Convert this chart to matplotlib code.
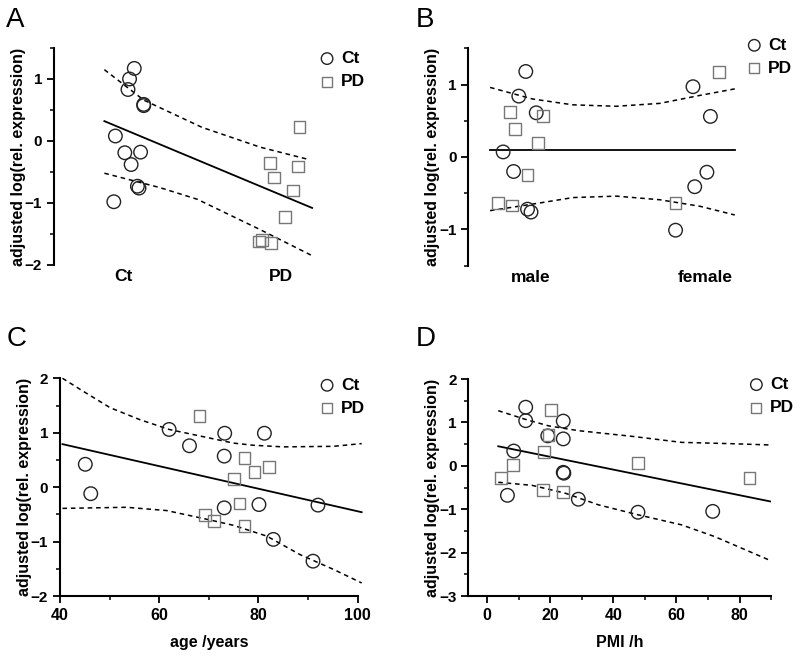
import matplotlib.pyplot as plt
from matplotlib.ticker import MultipleLocator

plt.rcParams['font.family'] = ['Liberation Sans', 'DejaVu Sans']
plt.rcParams['font.weight'] = 'bold'

# ---- A: diagnosis (x = group index plus jitter)
a_groups = ["Ct", "PD"]
a_ct_x = [0.07, 0.04, 0.03, 0.13, 0.13, -0.05, 0.01, 0.11, 0.05, 0.09, 0.10, -0.06]
a_ct_y = [1.17, 1.00, 0.83, 0.59, 0.57, 0.08, -0.19, -0.18, -0.38, -0.73, -0.76, -0.98]
a_pd_x = [1.12, 0.93, 1.11, 0.96, 1.08, 1.03, 0.86, 0.88, 0.94]
a_pd_y = [0.22, -0.36, -0.41, -0.59, -0.80, -1.23, -1.62, -1.60, -1.64]
a_fit_x = [-0.12, 1.20]
a_fit_y = [0.32, -1.08]
a_up_x = [-0.12, 0.13, 0.50, 0.87, 1.18]
a_up_y = [1.15, 0.66, 0.22, -0.10, -0.30]
a_lo_x = [-0.12, 0.23, 0.47, 0.87, 1.20]
a_lo_y = [-0.52, -0.75, -0.94, -1.43, -1.85]

# ---- B: gender
b_groups = ["male", "female"]
b_ct_x = [-0.03, -0.07, 0.03, -0.16, -0.10, -0.02, 0.00, 0.93, 1.03, 1.01, 0.94, 0.83]
b_ct_y = [1.18, 0.84, 0.61, 0.07, -0.20, -0.72, -0.76, 0.97, 0.56, -0.21, -0.41, -1.01]
b_pd_x = [-0.12, -0.09, 0.07, 0.04, -0.02, -0.19, -0.11, 1.08, 0.83]
b_pd_y = [0.62, 0.39, 0.57, 0.19, -0.25, -0.63, -0.67, 1.17, -0.64]
b_fit_x = [-0.235, 1.17]
b_fit_y = [0.10, 0.10]
b_up_x = [-0.235, 0.01, 0.24, 0.49, 0.74, 0.97, 1.17]
b_up_y = [0.96, 0.80, 0.72, 0.70, 0.74, 0.85, 0.94]
b_lo_x = [-0.235, 0.01, 0.24, 0.49, 0.74, 0.97, 1.17]
b_lo_y = [-0.74, -0.65, -0.56, -0.54, -0.59, -0.68, -0.80]

# ---- C: age
c_ct_x = [45.1, 46.2, 62.0, 66.1, 73.2, 73.1, 73.1, 81.2, 80.1, 83.0, 92.0, 91.0]
c_ct_y = [0.42, -0.12, 1.06, 0.76, 0.99, 0.57, -0.38, 0.99, -0.32, -0.96, -0.33, -1.36]
c_pd_x = [68.1, 77.2, 79.2, 82.1, 75.1, 76.2, 69.2, 71.0, 77.2]
c_pd_y = [1.30, 0.53, 0.28, 0.37, 0.15, -0.30, -0.51, -0.62, -0.72]
c_fit_x = [40.5, 100.8]
c_fit_y = [0.79, -0.46]
c_up_x = [40.5, 44.7, 50.1, 56.1, 62.0, 68.2, 74.9, 78.9, 85.0, 95.1, 100.8]
c_up_y = [2.00, 1.76, 1.46, 1.24, 1.06, 0.94, 0.81, 0.77, 0.74, 0.75, 0.80]
c_lo_x = [40.5, 53.4, 61.5, 69.6, 74.9, 81.7, 88.4, 95.1, 100.8]
c_lo_y = [-0.39, -0.37, -0.43, -0.59, -0.70, -0.90, -1.24, -1.51, -1.76]

# ---- D: post mortem interval
d_ct_x = [12.2, 12.2, 8.4, 6.4, 19.2, 24.1, 24.1, 24.1, 24.3, 28.9, 47.8, 71.5]
d_ct_y = [1.35, 1.04, 0.34, -0.68, 0.69, 1.03, 0.62, -0.15, -0.17, -0.77, -1.07, -1.05]
d_pd_x = [20.1, 19.4, 17.9, 8.2, 4.4, 17.7, 24.0, 47.8, 83.2]
d_pd_y = [1.29, 0.71, 0.31, 0.02, -0.28, -0.55, -0.60, 0.07, -0.28]
d_fit_x = [3.5, 89.7]
d_fit_y = [0.45, -0.82]
d_up_x = [3.5, 12.1, 19.5, 28.9, 45.8, 61.6, 77.4, 89.7]
d_up_y = [1.27, 1.07, 0.92, 0.81, 0.68, 0.54, 0.51, 0.48]
d_lo_x = [3.5, 14.2, 24.7, 35.3, 47.9, 61.6, 72.1, 89.7]
d_lo_y = [-0.38, -0.45, -0.63, -0.90, -1.13, -1.36, -1.63, -2.18]

ylabel = "adjusted log(rel. expression)"


def draw_panel(ax, ct_x, ct_y, pd_x, pd_y, fit_x, fit_y, up_x, up_y, lo_x, lo_y):
    ax.plot(fit_x, fit_y, color="black", lw=1.3, zorder=2)
    ax.plot(up_x, up_y, color="black", lw=1.1, ls=(0, (3, 2.5)), zorder=2)
    ax.plot(lo_x, lo_y, color="black", lw=1.1, ls=(0, (3, 2.5)), zorder=2)
    ax.scatter(ct_x, ct_y, s=95, marker="o", facecolors="none",
               edgecolors="#222222", linewidths=1.0, zorder=3, label="Ct")
    ax.scatter(pd_x, pd_y, s=72, marker="s", facecolors="none",
               edgecolors="#777777", linewidths=1.0, zorder=3, label="PD")
    ax.set_ylabel(ylabel, fontsize=11.5, fontweight="bold", labelpad=-0.5)
    for s in ["top", "right"]:
        ax.spines[s].set_visible(False)
    ax.spines["left"].set_linewidth(1.5)
    ax.spines["bottom"].set_linewidth(1.5)
    ax.yaxis.set_major_locator(MultipleLocator(1))
    ax.yaxis.set_minor_locator(MultipleLocator(0.5))
    ax.tick_params(which="major", direction="out", length=5, width=1.3, labelsize=11)
    ax.tick_params(which="minor", direction="out", length=3, width=1.1)


def add_legend(ax, fig, x, y):
    leg = ax.legend(loc="upper left", bbox_to_anchor=(x, y), bbox_transform=fig.transFigure,
                    frameon=False, borderpad=0, borderaxespad=0, handlelength=1.0,
                    handletextpad=0.3, labelspacing=0.45, markerscale=0.85,
                    prop={"size": 12.5, "weight": "bold"})
    return leg


fig = plt.figure(figsize=(8.0, 6.58), dpi=100)
axA = fig.add_axes([0.0675, 0.5973, 0.3325, 0.3298])
axB = fig.add_axes([0.5854, 0.5962, 0.3396, 0.3304])
axC = fig.add_axes([0.075, 0.0942, 0.3721, 0.3309])
axD = fig.add_axes([0.5854, 0.0942, 0.3784, 0.3298])

draw_panel(axA, a_ct_x, a_ct_y, a_pd_x, a_pd_y, a_fit_x, a_fit_y, a_up_x, a_up_y, a_lo_x, a_lo_y)
axA.set_xlim(-0.44, 1.25)
axA.set_ylim(-2, 1.5)
axA.spines["bottom"].set_visible(False)
axA.set_xticks([0, 1])
axA.set_xticklabels(a_groups, fontsize=12.5)
axA.tick_params(axis="x", length=0, pad=3)

draw_panel(axB, b_ct_x, b_ct_y, b_pd_x, b_pd_y, b_fit_x, b_fit_y, b_up_x, b_up_y, b_lo_x, b_lo_y)
axB.set_xlim(-0.36, 1.2)
axB.set_ylim(-1.5, 1.5)
axB.spines["bottom"].set_visible(False)
axB.set_xticks([0, 1])
axB.set_xticklabels(b_groups, fontsize=12.5)
axB.tick_params(axis="x", length=0, pad=3)

draw_panel(axC, c_ct_x, c_ct_y, c_pd_x, c_pd_y, c_fit_x, c_fit_y, c_up_x, c_up_y, c_lo_x, c_lo_y)
axC.set_xlim(40, 100)
axC.set_ylim(-2, 2)
axC.xaxis.set_major_locator(MultipleLocator(20))
axC.xaxis.set_minor_locator(MultipleLocator(10))
axC.tick_params(axis="x", labelsize=11.5)
axC.set_xlabel("age /years", fontsize=11.5, fontweight="bold", labelpad=9)
for line in axC.lines:
    line.set_clip_on(False)

draw_panel(axD, d_ct_x, d_ct_y, d_pd_x, d_pd_y, d_fit_x, d_fit_y, d_up_x, d_up_y, d_lo_x, d_lo_y)
axD.set_xlim(-6, 90)
axD.set_ylim(-3, 2)
axD.xaxis.set_major_locator(MultipleLocator(20))
axD.xaxis.set_minor_locator(MultipleLocator(10))
axD.tick_params(axis="x", labelsize=11.5)
axD.set_xlabel("PMI /h", fontsize=11.5, fontweight="bold", labelpad=9)

add_legend(axA, fig, 0.398, 0.9225)
add_legend(axB, fig, 0.932, 0.9427)
add_legend(axC, fig, 0.398, 0.426)
add_legend(axD, fig, 0.9346, 0.427)

for label, x, y in [("A", 0.008, 0.99), ("B", 0.52, 0.99), ("C", 0.008, 0.505), ("D", 0.52, 0.505)]:
    fig.text(x, y, label, fontsize=20, fontweight="normal", va="top", ha="left")

fig.savefig("out.png", dpi=100)
